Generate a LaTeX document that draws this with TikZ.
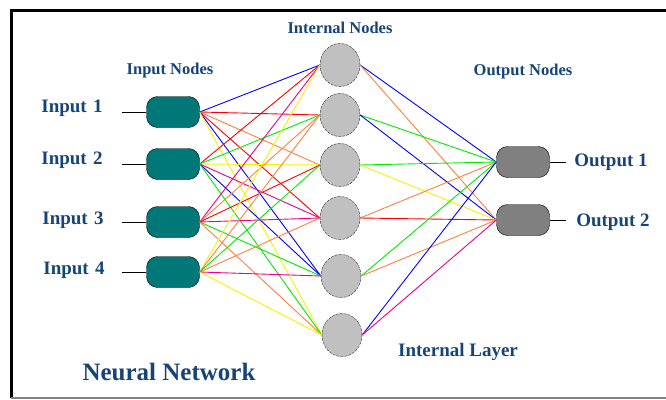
\documentclass[tikz,border=0pt]{standalone}
\usepackage{fontspec}
\setmainfont{Liberation Serif}
\usepackage{tikz}
\usetikzlibrary{shapes}
\usetikzlibrary{calc}
\definecolor{labblue}{RGB}{22,68,120}
\definecolor{teal}{RGB}{0,120,120}
\definecolor{hidgray}{RGB}{192,192,192}
\definecolor{outgray}{RGB}{128,128,128}
\definecolor{lorange}{RGB}{255,128,64}
\definecolor{lgreen}{RGB}{0,235,0}
\definecolor{lyellow}{RGB}{250,240,0}
\tikzstyle{innode}  = [
    shape=rectangle,
    draw,
    rounded corners=11pt,
    fill=teal,
    minimum width=53pt,
    minimum height=31pt
]
\tikzstyle{outnode}  = [
    innode,
    fill=outgray
]
\tikzstyle{hidnode}  = [
    shape=ellipse,
    draw=black!80,
    dash pattern=on 3pt off 1pt,
    fill=hidgray,
    inner sep=0pt,
    minimum width=40pt,
    minimum height=43pt
]
\tikzstyle{lab}  = [
    text=labblue,
    font=\bfseries\fontsize{19}{21}\selectfont
]
\tikzstyle{link}  = [
    line width=0.9pt
]
\newcommand{\sublab}{\bfseries\fontsize{16.5}{18}\selectfont}

\begin{document}
\begin{tikzpicture}[x = 1pt, y = -1pt]
\useasboundingbox (0,0) rectangle (666,399);
\draw[line width=3pt] (666,10) -- (11,10) -- (11,398);
\draw[outgray, line width=1.5pt] (11,398) -- (666,398);

\node[innode] (i1) at (173,112) {};
\node[innode] (i2) at (173,164) {};
\node[innode] (i3) at (173,222) {};
\node[innode] (i4) at (173,272) {};

\node[hidnode] (h1) at (340,65)  {};
\node[hidnode] (h2) at (340,115) {};
\node[hidnode] (h3) at (340,165) {};
\node[hidnode] (h4) at (340,218) {};
\node[hidnode] (h5) at (341,276) {};
\node[hidnode] (h6) at (342,335) {};

\node[outnode] (o1) at (523,162) {};
\node[outnode] (o2) at (523,220) {};

% input layer to internal layer
\foreach \h/\c in {1/blue,2/red,3/lorange,4/red,5/blue,6/lyellow}
  \draw[link, \c] (i1.east) -- (h\h.west);
\foreach \h/\c in {1/red,2/lgreen,3/lyellow,4/magenta,5/blue,6/lgreen}
  \draw[link, \c] (i2.east) -- (h\h.west);
\foreach \h/\c in {1/magenta,2/lorange,3/red,4/magenta,5/lgreen,6/lorange}
  \draw[link, \c] (i3.east) -- (h\h.west);
\foreach \h/\c in {1/lyellow,2/lorange,3/lgreen,4/lorange,5/magenta,6/lyellow}
  \draw[link, \c] (i4.east) -- (h\h.west);

% internal layer to output layer
\foreach \h/\c/\d in {1/blue/lorange,2/lgreen/blue,3/lgreen/lyellow,4/lorange/red,5/lgreen/lorange,6/blue/magenta} {
  \draw[link, \c] (h\h.east) -- (o1.west);
  \draw[link, \d] (h\h.east) -- (o2.west);
}

\node[lab] (t1) at (72,108) {Input\,\,1};
\node[lab] (t2) at (72,160) {Input\,\,2};
\node[lab] (t3) at (73,220) {Input\,\,3};
\node[lab] (t4) at (74,270) {Input\,\,4};
\foreach \i in {1,...,4}
  \draw[thick] (i\i.west) -- ++(-24,0);

\node[lab] (u1) at (611,162) {Output 1};
\node[lab] (u2) at (613,222) {Output 2};
\draw[thick] (o1.east) -- ++(16,0);
\draw[thick] (o2.east) -- ++(16,0);

\node[text=labblue, font=\sublab] (inlab)  at (170,71)  {Input Nodes};
\node[text=labblue, font=\sublab] (hidlab) at (340,28)  {Internal Nodes};
\node[text=labblue, font=\sublab] (outlab) at (523,72)  {Output Nodes};
\node[lab] (laylab) at (458,352) {Internal Layer};
\node[text=labblue, font=\bfseries\fontsize{25}{28}\selectfont] (title) at (169,372) {Neural Network};

\end{tikzpicture}
\end{document}
